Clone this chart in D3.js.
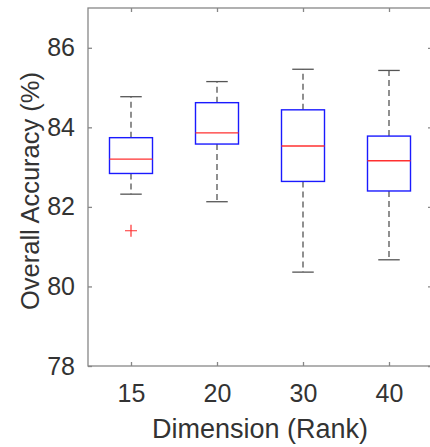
<!DOCTYPE html>
<html>
<head>
<meta charset="utf-8">
<script src="https://cdn.jsdelivr.net/npm/d3@7"></script>
<style>
html,body{margin:0;padding:0;background:#fff;}
svg{display:block;font-family:"Liberation Sans",Arial,sans-serif;}
</style>
</head>
<body>
<svg id="chart" width="430" height="447"></svg>
<script>
const categories = ["15", "20", "30", "40"];
const whiskerLow = [82.32, 82.13, 80.36, 80.67];
const q1 = [82.84, 83.58, 82.64, 82.40];
const median = [83.20, 83.86, 83.53, 83.16];
const q3 = [83.74, 84.62, 84.44, 83.78];
const whiskerHigh = [84.77, 85.15, 85.46, 85.43];
const outliers = [[81.40], [], [], []];
const yTicks = [78, 80, 82, 84, 86];

const svg = d3.select("#chart");
const L = 88, R = 432, T = 8, B = 366;
const x = d3.scaleLinear().domain([0.5, 4.5]).range([L, R]);
const y = d3.scaleLinear().domain([78, 87]).range([B, T]);
const axisColor = "#878787", textColor = "#333333";
const fontFam = "Liberation Sans, Arial, sans-serif";

// frame
svg.append("rect").attr("x", L).attr("y", T).attr("width", R - L).attr("height", B - T)
  .attr("fill", "none").attr("stroke", axisColor).attr("stroke-width", 1.3);

// y axis
const yAxis = svg.append("g").attr("transform", `translate(${L},0)`)
  .call(d3.axisLeft(y).tickValues(yTicks).tickSize(-4).tickPadding(13).tickFormat(d3.format("d")));
yAxis.select(".domain").remove();
yAxis.selectAll("line").attr("stroke", axisColor).attr("stroke-width", 1.3);
yAxis.selectAll("text").attr("fill", textColor).style("font-size", "25px").style("font-family", fontFam);
const yAxisR = svg.append("g").attr("transform", `translate(${R},0)`)
  .call(d3.axisRight(y).tickValues(yTicks).tickSize(-4).tickFormat(""));
yAxisR.select(".domain").remove();
yAxisR.selectAll("line").attr("stroke", axisColor).attr("stroke-width", 1.3);

// x axis
const xAxis = svg.append("g").attr("transform", `translate(0,${B})`)
  .call(d3.axisBottom(x).tickValues([1, 2, 3, 4]).tickSize(-4).tickPadding(18).tickFormat((d, i) => categories[i]));
xAxis.select(".domain").remove();
xAxis.selectAll("line").attr("stroke", axisColor).attr("stroke-width", 1.3);
xAxis.selectAll("text").attr("fill", textColor).style("font-size", "25px").style("font-family", fontFam);
const xAxisT = svg.append("g").attr("transform", `translate(0,${T})`)
  .call(d3.axisTop(x).tickValues([1, 2, 3, 4]).tickSize(-4).tickFormat(""));
xAxisT.select(".domain").remove();
xAxisT.selectAll("line").attr("stroke", axisColor).attr("stroke-width", 1.3);

// labels
svg.append("text").attr("x", (L + R) / 2).attr("y", 438).attr("text-anchor", "middle")
  .attr("fill", textColor).style("font-size", "27px").text("Dimension (Rank)");
svg.append("text").attr("transform", `translate(39,191) rotate(-90)`).attr("text-anchor", "middle")
  .attr("fill", textColor).style("font-size", "25.5px").text("Overall Accuracy (%)");

// boxes
const g = svg.append("g");
const boxW = 0.5, capW = 0.25;
categories.forEach((c, i) => {
  const cx = x(i + 1);
  const bw = x(boxW) - x(0), cw = x(capW) - x(0);
  g.append("line").attr("x1", cx).attr("x2", cx).attr("y1", y(q3[i])).attr("y2", y(whiskerHigh[i]))
    .attr("stroke", "#555").attr("stroke-width", 1.3).attr("stroke-dasharray", "6,4");
  g.append("line").attr("x1", cx).attr("x2", cx).attr("y1", y(q1[i])).attr("y2", y(whiskerLow[i]))
    .attr("stroke", "#555").attr("stroke-width", 1.3).attr("stroke-dasharray", "6,4");
  [whiskerHigh[i], whiskerLow[i]].forEach(v => {
    g.append("line").attr("x1", cx - cw / 2).attr("x2", cx + cw / 2).attr("y1", y(v)).attr("y2", y(v))
      .attr("stroke", "#555").attr("stroke-width", 1.3);
  });
  g.append("rect").attr("x", cx - bw / 2).attr("y", y(q3[i])).attr("width", bw).attr("height", y(q1[i]) - y(q3[i]))
    .attr("fill", "none").attr("stroke", "#1a1aff").attr("stroke-width", 1.4);
  g.append("line").attr("x1", cx - bw / 2).attr("x2", cx + bw / 2).attr("y1", y(median[i])).attr("y2", y(median[i]))
    .attr("stroke", "#ff3030").attr("stroke-width", 1.4);
  outliers[i].forEach(v => {
    const oy = y(v);
    g.append("path").attr("d", `M${cx - 6},${oy}H${cx + 6}M${cx},${oy - 6}V${oy + 6}`)
      .attr("stroke", "#ff3030").attr("stroke-width", 1.2).attr("fill", "none");
  });
});
</script>
</body>
</html>
